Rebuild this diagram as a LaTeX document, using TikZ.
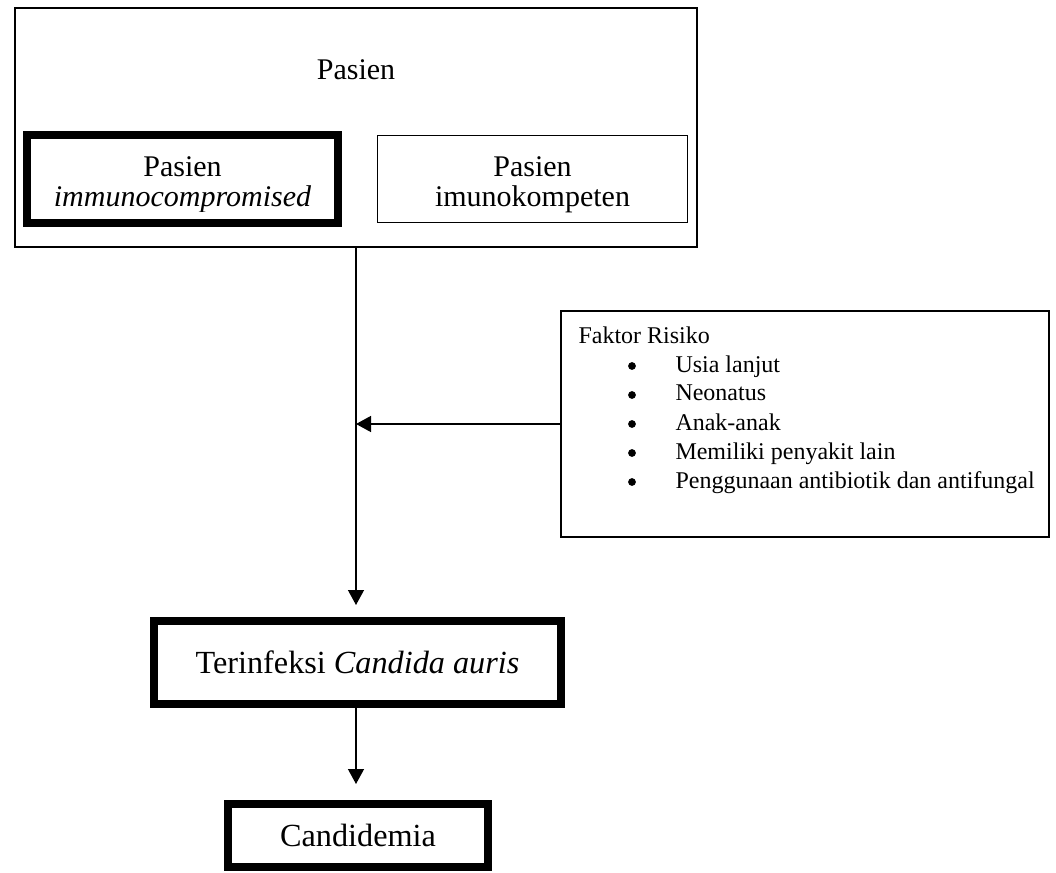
\documentclass[tikz,border=0pt]{standalone}
\usepackage{fontspec}
\setmainfont{Liberation Serif}
\usetikzlibrary{arrows.meta}
\tikzstyle{bx}=[draw=black,line width=.8pt,inner sep=0pt]
\tikzstyle{thk}=[draw=black,line width=3.2pt,inner sep=0pt]
\tikzstyle{lb}=[font=\fontsize{12}{12.5}\selectfont,anchor=base,inner sep=0pt]
\tikzstyle{big}=[font=\fontsize{12.9}{15}\selectfont]
\tikzstyle{sm}=[font=\fontsize{9.6}{11.6}\selectfont,anchor=base west,inner sep=0pt]
\tikzstyle{dot}=[circle,fill=black,inner sep=0pt,minimum size=3.1pt]
\tikzstyle{ar}=[-{Triangle[length=6pt,width=6.4pt]},line width=.55pt]

\begin{document}
\begin{tikzpicture}[x=.4pt,y=-.4pt]
\useasboundingbox (0,0) rectangle (1056,873);
% pasien box
\node[lb] (tp) at (356,80) {Pasien};
\node[lb] (l1) at (182.5,176) {Pasien};
\begin{scope}
\clip (27,135) rectangle (338,211);
\node[lb] (l2) at (182.5,207) {\itshape immunocompromised};
\end{scope}
\node[lb] (r1) at (532.5,176) {Pasien};
\node[lb] (r2) at (532.5,207) {imunokompeten};
\node[bx,minimum width=272.4pt,minimum height=95.6pt] (ps) at (356,127.5) {};
\node[thk,minimum width=124.4pt,minimum height=35.2pt] (imc) at (182.5,179) {};
\node[bx,line width=.6pt,minimum width=124pt,minimum height=34.8pt] (imk) at (532.5,179) {};
% faktor risiko
\node[bx,minimum width=195.2pt,minimum height=90.4pt] (fr) at (805,424) {};
\node[sm] (frt) at (578,343) {Faktor Risiko};
\foreach \t [count=\i] in {Usia lanjut,Neonatus,Anak-anak,Memiliki penyakit lain,Penggunaan antibiotik dan antifungal} {
  \node[dot] (b\i) at (632,337+29*\i) {};
  \node[sm] (f\i) at (675,343+29*\i) {\t};
}
% hasil
\node[thk,big,minimum width=162.8pt,minimum height=33.2pt] (inf) at (357.5,662.5) {Terinfeksi \textit{Candida auris}};
\node[thk,big,minimum width=104pt,minimum height=25.2pt] (cd) at (358,835.5) {Candidemia};
\draw[ar,shorten >=4.8pt] (ps.south) -- (ps.south |- inf.north);
\draw[ar] (fr.west) -- (fr.west -| ps.south);
\draw[ar,shorten >=6.4pt] (inf.south -| ps.south) -- (ps.south |- cd.north);
\end{tikzpicture}
\end{document}
